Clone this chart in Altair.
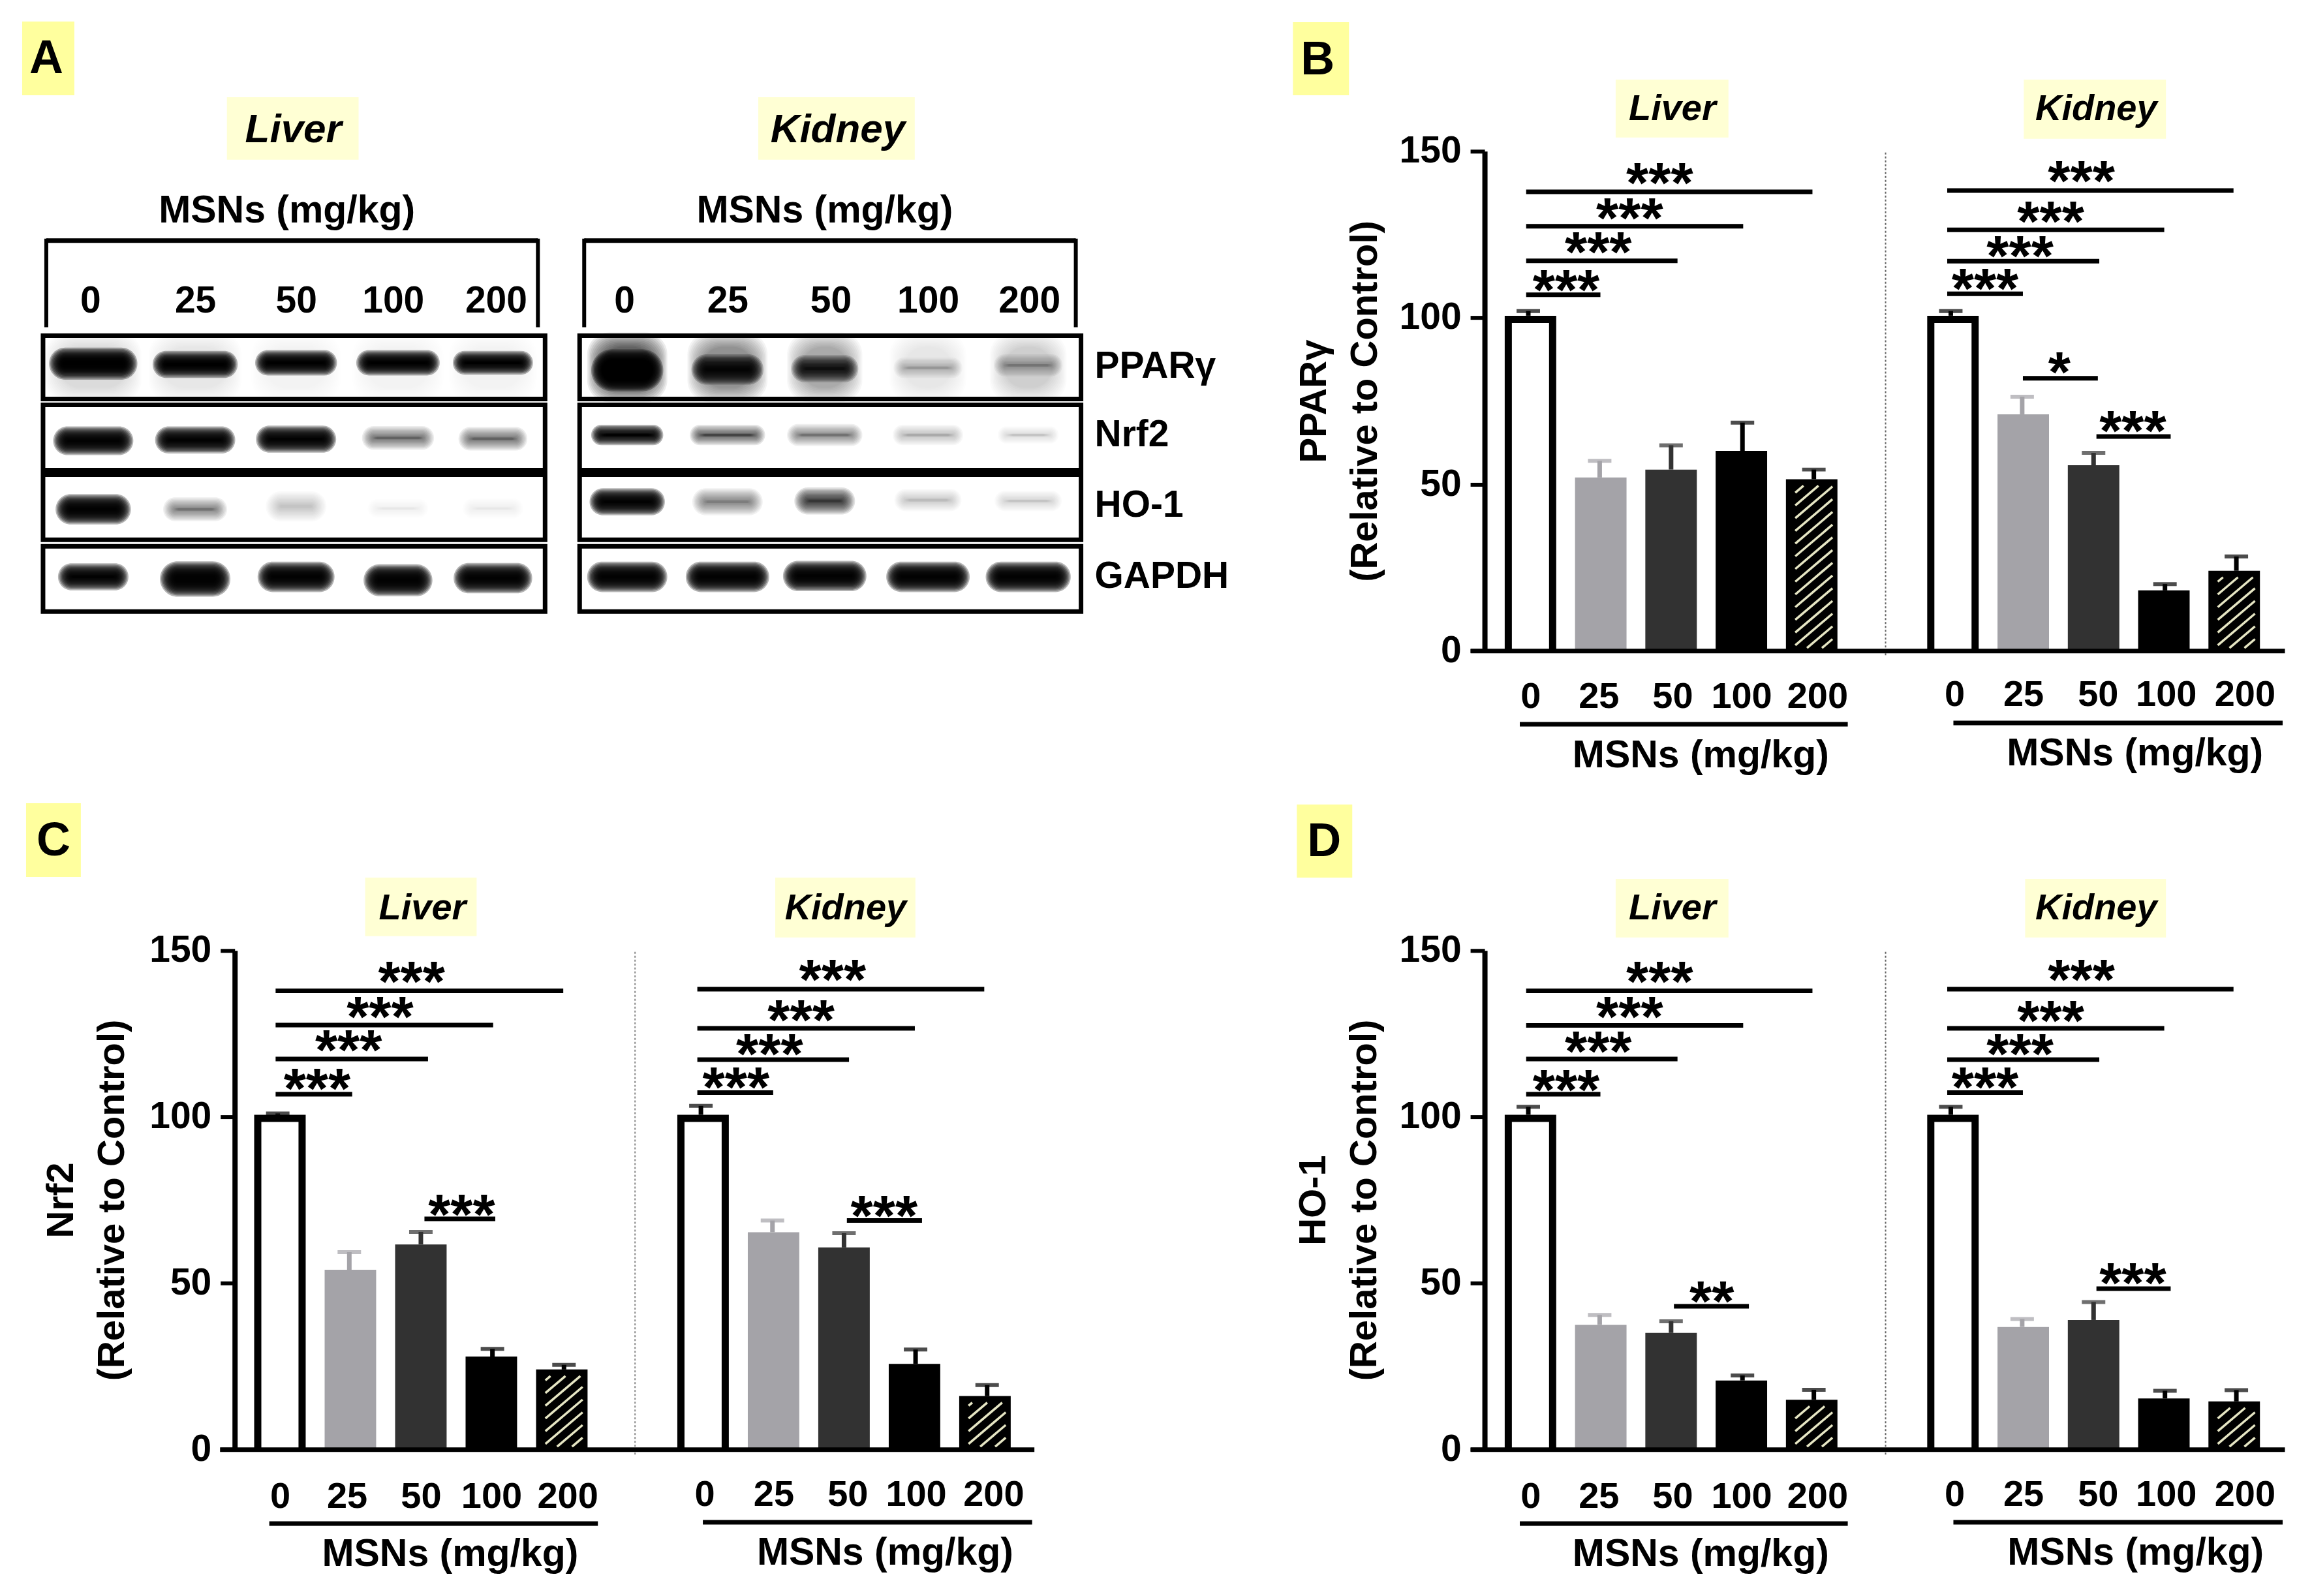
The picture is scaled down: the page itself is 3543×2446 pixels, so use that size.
import altair as alt
import pandas as pd

FONT = "Liberation Sans"
W, H = 3530, 2430

DOSES = ["0", "25", "50", "100", "200"]
FILLS = ["#000000", "#a4a3a8", "#323232", "#000000", "#000000"]
ERR_COLORS = ["#000000", "#a4a3a8", "#323232", "#000000", "#000000"]

# ---- bar values ----
B_LIVER = [100.6, 52, 54.4, 60, 51.5]
B_LIVER_ERR = [102, 57, 61.7, 68.5, 54.4]
B_KIDNEY = [100.6, 71, 55.7, 18.1, 24]
B_KIDNEY_ERR = [102, 76.3, 59.4, 20, 28.3]
C_LIVER = [100.6, 54, 61.6, 27.9, 24]
C_LIVER_ERR = [101, 59.3, 65.4, 30.2, 25.4]
C_KIDNEY = [100.6, 65.3, 60.7, 25.7, 16]
C_KIDNEY_ERR = [103.3, 68.8, 65, 30, 19.3]
D_LIVER = [100.6, 37.4, 35, 20.7, 14.9]
D_LIVER_ERR = [103, 40.4, 38.5, 22.2, 17.9]
D_KIDNEY = [100.6, 36.8, 38.9, 15.3, 14.4]
D_KIDNEY_ERR = [103, 39.2, 44.3, 17.6, 17.8]

# ---- significance bars: from, to, height, star x, star y, stars ----
B_L_SIG = ([-.03, -.03, -.03, -.03], [1.01, 2.09, 3.01, 3.98], [106.9, 117.1, 127.5, 137.8],
           [.53, .98, 1.42, 1.84], [110.7, 122.1, 132.3, 143], ["***"] * 4)
B_K_SIG = ([-.05, -.05, -.05, -.05, 1.01, 2.04], [1.01, 2.08, 2.99, 3.96, 2.06, 3.08],
           [107.2, 117, 126.4, 138.2, 81.8, 64.3],
           [.48, .97, 1.4, 1.83, 1.52, 2.55], [111.2, 121, 131.3, 143.5, 86, 68.4],
           ["***", "***", "***", "***", "*", "***"])
C_L_SIG = ([-.03, -.03, -.03, -.03, 2.05], [1.04, 2.1, 3.01, 3.99, 3.04],
           [106.8, 117.4, 127.6, 137.9, 69.3],
           [.55, .99, 1.43, 1.87, 2.57], [110.9, 122.4, 132.5, 143.1, 73.1], ["***"] * 5)
C_K_SIG = ([-.05, -.05, -.05, -.05, 2.04], [1.01, 2.07, 2.99, 3.96, 3.09],
           [107.3, 117.2, 126.6, 138.4, 68.8],
           [.49, .96, 1.4, 1.84, 2.56], [111.2, 121.4, 131.5, 143.6, 72.6], ["***"] * 5)
D_L_SIG = ([-.03, -.03, -.03, -.03, 2.04], [1.01, 2.09, 3.01, 3.98, 3.09],
           [106.8, 117.4, 127.5, 137.9, 43],
           [.53, .98, 1.42, 1.84, 2.57], [110.6, 122.1, 132.4, 143.1, 47],
           ["***", "***", "***", "***", "**"])
D_K_SIG = ([-.05, -.05, -.05, -.05, 2.04], [1.01, 2.08, 2.99, 3.96, 3.08],
           [107.3, 117.2, 126.6, 138.4, 48.3],
           [.48, .97, 1.4, 1.83, 2.55], [111.2, 121.4, 131.3, 143.6, 52.4], ["***"] * 5)

# ---- tick-label positions along the dose axis ----
TICKS_BD_L = [0, .97, 2.02, 3.0, 4.08]
TICKS_BD_K = [.02, 1.0, 2.06, 3.03, 4.15]
TICKS_C_L = [0, .95, 2.0, 3.0, 4.08]
TICKS_C_K = [.02, 1.0, 2.05, 3.02, 4.12]

# ---- western blot bands: darkness, width, half-height, centre row reading ----
ROW_NAMES = ["PPARγ", "Nrf2", "HO-1", "GAPDH"]
ROW_MID = [881, 1050, 1218, 1390]

LIVER_DARK = [[1, 1, 1, 1, 1], [1, 1, 1, .6, .6], [1, .55, .22, .08, .1], [1, 1, 1, 1, 1]]
LIVER_WIDE = [[96, 92, 88, 90, 86], [86, 86, 86, 76, 72], [80, 66, 62, 62, 62], [74, 74, 82, 72, 84]]
LIVER_TALL = [[26, 20, 18, 18, 16], [22, 20, 20, 16, 16], [24, 16, 24, 10, 12], [20, 30, 24, 26, 24]]
LIVER_CY = [[872, 874, 870, 870, 870], [1057, 1055, 1053, 1050, 1052], [1220, 1220, 1213, 1218, 1218],
            [1385, 1390, 1385, 1393, 1388]]
KIDNEY_DARK = [[1, .95, .9, .32, .42], [1, .72, .55, .32, .2], [1, .48, .78, .26, .2], [1, 1, 1, 1, 1]]
KIDNEY_WIDE = [[76, 76, 70, 72, 72], [76, 80, 80, 74, 62], [80, 74, 62, 70, 70], [86, 90, 90, 90, 92]]
KIDNEY_TALL = [[38, 24, 20, 12, 14], [12, 12, 14, 12, 8], [20, 20, 20, 14, 12], [24, 24, 24, 24, 24]]
KIDNEY_CY = [[888, 886, 884, 882, 876], [1043, 1043, 1043, 1043, 1043], [1202, 1202, 1200, 1198, 1200],
             [1385, 1385, 1383, 1385, 1385]]
SMEAR_DARK_L = [.14, .07, .06, .06, .06]
SMEAR_DARK_K = [.6, .42, .32, .1, .16]

LIVER_LANES = [0, 1.02, 2.03, 3.05, 4.0]
KIDNEY_LANES = [0, 1.0, 1.97, 3.0, 4.0]
LANE_TICKS_L = [-.03, 1.02, 2.03, 3.0, 4.03]
LANE_TICKS_K = [-.03, 1.0, 2.03, 3.0, 4.01]


def px(v):
    return v - 8


layers = []


def text(t, x, y, size, style="normal", align="center"):
    layers.append(
        alt.Chart(alt.Data(values=[{"t": t}]))
        .mark_text(font=FONT, fontWeight="bold", fontStyle=style, fontSize=size,
                   align=align, baseline="middle", color="#000000")
        .encode(x=alt.value(px(x)), y=alt.value(px(y)), text=alt.Text("t:N"))
    )


def box(x0, y0, x1, y1, fill, **kw):
    layers.append(
        alt.Chart(alt.Data(values=[{"a": 1}]))
        .mark_rect(fill=fill, **kw)
        .encode(x=alt.value(px(x0)), x2=alt.value(px(x1)), y=alt.value(px(y0)), y2=alt.value(px(y1)))
    )


def line(x0, y0, x1, y1, width, color="#000000", **kw):
    layers.append(
        alt.Chart(alt.Data(values=[{"a": 1}]))
        .mark_rule(color=color, strokeWidth=width, **kw)
        .encode(x=alt.value(px(x0)), x2=alt.value(px(x1)), y=alt.value(px(y0)), y2=alt.value(px(y1)))
    )


LABEL_EXPR = "['0','25','50','100','200'][round(datum.value)]"


def lane_scale(c0, c4):
    step = (c4 - c0) / 4
    return alt.Scale(domain=[-1, 5], range=[px(c0 - step), px(c4 + step)], nice=False, zero=False)


def organ(values, errs, sig, c0, c4, y0, y150, ticks, tick_y, msn_x, msn_y):
    xs = lane_scale(c0, c4)
    ys = alt.Scale(domain=[0, 150], range=[px(y0), px(y150)], nice=False, zero=False)
    step = (c4 - c0) / 4
    per = (y0 - y150) / 150
    df = pd.DataFrame({"dose": DOSES, "pos": range(5), "value": values, "err": errs})
    df["inner"] = df["value"] - 11 / per
    fill = alt.Fill("dose:N", scale=alt.Scale(domain=DOSES, range=FILLS), legend=None)
    col = alt.Color("dose:N", scale=alt.Scale(domain=DOSES, range=ERR_COLORS), legend=None)
    yy = alt.Y("value:Q", scale=ys, axis=None, stack=None)
    xx = alt.X("pos:Q", scale=xs, axis=None)
    # error bars
    layers.append(alt.Chart(df).mark_rule(strokeWidth=7).encode(
        x=xx, y=yy, y2=alt.Y2("err:Q"), color=col))
    layers.append(alt.Chart(df).mark_tick(orient="horizontal", size=36, thickness=6).encode(
        x=xx, y=alt.Y("err:Q", scale=ys, axis=None), color=col))
    # bars, carrying the dose axis
    axis = alt.Axis(orient="bottom", offset=px(y0) - H, values=ticks, labelExpr=LABEL_EXPR,
                    ticks=False, tickSize=0, domain=False, grid=False,
                    labelFont=FONT, labelFontWeight="bold", labelFontSize=56, labelColor="#000000",
                    labelAngle=0, labelAlign="center", labelBaseline="middle",
                    labelPadding=tick_y - y0, labelOverlap=False, labelBound=False, labelFlush=False,
                    title="MSNs (mg/kg)", titleFont=FONT, titleFontWeight="bold", titleFontSize=59,
                    titleColor="#000000", titleX=px(msn_x), titleY=msn_y - y0, titleAngle=0,
                    titleAlign="center", titleBaseline="middle")
    layers.append(alt.Chart(df).mark_bar(orient="vertical", size=79).encode(
        x=alt.X("pos:Q", scale=xs, axis=axis), y=yy, fill=fill))
    layers.append(alt.Chart(df[df.dose == "0"]).mark_bar(
        orient="vertical", size=57, fill="#ffffff").encode(
        x=xx, y=alt.Y("inner:Q", scale=ys, axis=None, stack=None)))
    # hatching of the last bar
    top = values[4] * per - 10
    rows = []
    c = -65.0
    while c < top + 40:
        xa = max(-28.5, (4 - c) / 0.85)
        xb = min(28.5, (top - c) / 0.85)
        if xb > xa:
            rows.append({"x": 4 + xa / step, "x2": 4 + xb / step,
                         "y": (c + 0.85 * xa) / per, "y2": (c + 0.85 * xb) / per})
        c += 19.5
    layers.append(alt.Chart(pd.DataFrame(rows)).mark_rule(color="#e6e6c4", strokeWidth=3.5).encode(
        x=alt.X("x:Q", scale=xs, axis=None), x2=alt.X2("x2:Q"),
        y=alt.Y("y:Q", scale=ys, axis=None), y2=alt.Y2("y2:Q")))
    # significance
    sd = pd.DataFrame({"a": sig[0], "b": sig[1], "v": sig[2], "sx": sig[3], "sy": sig[4], "s": sig[5]})
    layers.append(alt.Chart(sd).mark_rule(color="#000000", strokeWidth=7).encode(
        x=alt.X("a:Q", scale=xs, axis=None), x2=alt.X2("b:Q"), y=alt.Y("v:Q", scale=ys, axis=None)))
    layers.append(alt.Chart(sd).mark_text(font=FONT, fontWeight="bold", fontSize=88, align="center",
                                          baseline="alphabetic", dy=42, color="#000000").encode(
        x=alt.X("sx:Q", scale=xs, axis=None), y=alt.Y("sy:Q", scale=ys, axis=None), text=alt.Text("s:N")))


def frame(yax, y0, y150, ax0, ax1, title, title_x):
    ys = alt.Scale(domain=[0, 150], range=[px(y0), px(y150)], nice=False, zero=False)
    xs = alt.Scale(domain=[0, 1], range=[px(ax0), px(ax1)], nice=False, zero=False)
    yaxis = alt.Axis(orient="left", offset=-px(yax), values=[0, 50, 100, 150], grid=False,
                     domainColor="#000000", domainWidth=8, tickColor="#000000", tickWidth=6, tickSize=22,
                     labelFont=FONT, labelFontWeight="bold", labelFontSize=57, labelColor="#000000",
                     labelPadding=14, labelBaseline="middle", zindex=1,
                     title=title, titleFont=FONT, titleFontWeight="bold", titleFontSize=58,
                     titleColor="#000000", titleLineHeight=78, titleX=title_x - yax,
                     titleY=px((y0 + y150) / 2), titleAngle=-90, titleAlign="center", titleBaseline="middle")
    xaxis = alt.Axis(orient="bottom", offset=px(y0) - H, ticks=False, labels=False, grid=False, title=None,
                     domainColor="#000000", domainWidth=7, zindex=1)
    layers.append(alt.Chart(pd.DataFrame({"u": [0, 1], "v": [0, 150]})).mark_point(opacity=0).encode(
        x=alt.X("u:Q", scale=xs, axis=xaxis), y=alt.Y("v:Q", scale=ys, axis=yaxis)))


def blot(dark, wide, tall, cy, smear, lanes, l0, l4, x0, x1, lane_ticks, brack0, brack1):
    xs = lane_scale(l0, l4)
    ys = alt.Scale(domain=[0, 3], range=[px(562.5), px(887)], nice=False, zero=False)
    step = (l4 - l0) / 4
    rstep = (887 - 562.5) / 3
    rows_box = [(514, 611), (620, 720), (727, 827), (837, 937)]
    for a, b in rows_box:
        box(x0, a, x1, b, "#ffffff")
    bands = []
    for i in range(5):
        bands.append((lanes[i], 881 * 0.638, (wide[0][i] + 10) * 1.244 / 2, 62 * .638 + 6, smear[i], 0))
    for r in range(4):
        for i in range(5):
            bands.append((lanes[i], cy[r][i] * 0.638, wide[r][i] * 1.244 / 2, tall[r][i] * 0.638, dark[r][i], r))
    blur = [8, 6, 4, 2, 0, -2, -4, -6, -8, -10, -12, -14]
    for d in blur:
        rows = []
        for lane, cy_px, hw, hh, dk, r in bands:
            mid = r + (cy_px - ROW_MID[r] * 0.638) / rstep
            h = max(2.0, hh + d)
            rows.append({"x": lane - (hw + d) / step, "x2": lane + (hw + d) / step,
                         "y": mid - h / rstep, "y2": mid + h / rstep,
                         "o": 1 - (1 - min(dk, .985)) ** (1 / len(blur))})
        layers.append(alt.Chart(pd.DataFrame(rows)).mark_rect(cornerRadius=34, fill="#000000").encode(
            x=alt.X("x:Q", scale=xs, axis=None), x2=alt.X2("x2:Q"),
            y=alt.Y("y:Q", scale=ys, axis=None), y2=alt.Y2("y2:Q"),
            opacity=alt.Opacity("o:Q", scale=None)))
    for a, b in rows_box:
        box(x0, a, x1, b, "#ffffff", fillOpacity=0, stroke="#000000", strokeWidth=7)
    # dose labels above the blot
    axis = alt.Axis(orient="bottom", offset=px(461) - H, values=lane_ticks, labelExpr=LABEL_EXPR,
                    ticks=False, tickSize=0, domain=False, grid=False, title=None,
                    labelFont=FONT, labelFontWeight="bold", labelFontSize=57, labelColor="#000000",
                    labelAngle=0, labelAlign="center", labelBaseline="middle", labelPadding=0,
                    labelOverlap=False, labelBound=False, labelFlush=False)
    layers.append(alt.Chart(pd.DataFrame({"u": [0, 4]})).mark_point(opacity=0).encode(
        x=alt.X("u:Q", scale=xs, axis=axis)))
    # bracket
    line(brack0, 368, brack1, 368, 7)
    line(brack0, 365, brack0, 501, 6)
    line(brack1, 365, brack1, 501, 6)


YEL = "#ffff9e"
PALE = "#ffffd4"

# ---- panel letters and organ tags ----
for x0, y0, x1, y1, t, tx, ty in [
    (34, 32, 114, 145, "A", 71, 89), (1983, 33, 2069, 145, "B", 2021, 91),
    (40, 1231, 124, 1344, "C", 82, 1289), (1989, 1233, 2074, 1345, "D", 2031, 1290),
]:
    box(x0, y0, x1, y1, YEL)
    text(t, tx, ty, 72)

for x0, y0, x1, y1, t, tx, ty, s in [
    (348, 148, 550, 244, "Liver", 450, 198, 62), (1163, 148, 1403, 244, "Kidney", 1285, 198, 62),
    (2478, 121, 2651, 210, "Liver", 2565, 166, 56), (3104, 121, 3322, 212, "Kidney", 3215, 166, 56),
    (560, 1345, 731, 1435, "Liver", 648, 1392, 56), (1189, 1345, 1404, 1437, "Kidney", 1297, 1392, 56),
    (2478, 1347, 2651, 1437, "Liver", 2565, 1392, 56), (3106, 1347, 3322, 1437, "Kidney", 3215, 1392, 56),
]:
    box(x0, y0, x1, y1, PALE)
    text(t, tx, ty, s, style="italic")

# ---- panel A ----
text("MSNs (mg/kg)", 440, 322, 59)
text("MSNs (mg/kg)", 1265, 322, 59)
blot(LIVER_DARK, LIVER_WIDE, LIVER_TALL, LIVER_CY, SMEAR_DARK_L, LIVER_LANES, 143, 756, 66, 836, LANE_TICKS_L, 71, 825)
blot(KIDNEY_DARK, KIDNEY_WIDE, KIDNEY_TALL, KIDNEY_CY, SMEAR_DARK_K, KIDNEY_LANES, 962, 1577, 889, 1658, LANE_TICKS_K, 896, 1650)
for name, yy in zip(ROW_NAMES, [561, 667, 775, 884]):
    text(name, 1679, yy, 57, align="left")

# ---- panels B, C, D ----
line(2892, 233, 2892, 1007, 2, "#666666", strokeDash=[3, 3])
organ(B_LIVER, B_LIVER_ERR, B_L_SIG, 2344, 2782, 997, 231, TICKS_BD_L, 1067, 2608, 1157)
organ(B_KIDNEY, B_KIDNEY_ERR, B_K_SIG, 2992, 3430, 997, 231, TICKS_BD_K, 1064, 3274, 1154)
frame(2277, 997, 231, 2255, 3504, ["PPARγ", "(Relative to Control)"], 2016)
line(2331, 1110, 2834, 1110, 7)
line(2996, 1108, 3501, 1108, 7)

line(974, 1459, 974, 2232, 2, "#888888", strokeDash=[3, 3])
organ(C_LIVER, C_LIVER_ERR, C_L_SIG, 426, 865, 2222, 1457, TICKS_C_L, 2294, 690, 2383)
organ(C_KIDNEY, C_KIDNEY_ERR, C_K_SIG, 1075, 1514, 2222, 1457, TICKS_C_K, 2291, 1357, 2380)
frame(360, 2222, 1457, 337, 1586, ["Nrf2", "(Relative to Control)"], 95)
line(413, 2336, 917, 2336, 7)
line(1078, 2334, 1583, 2334, 7)

line(2892, 1459, 2892, 2232, 2, "#666666", strokeDash=[3, 3])
organ(D_LIVER, D_LIVER_ERR, D_L_SIG, 2344, 2782, 2222, 1457, TICKS_BD_L, 2294, 2608, 2383)
organ(D_KIDNEY, D_KIDNEY_ERR, D_K_SIG, 2992, 3430, 2222, 1457, TICKS_BD_K, 2291, 3275, 2380)
frame(2277, 2222, 1457, 2255, 3504, ["HO-1", "(Relative to Control)"], 2015)
line(2331, 2336, 2834, 2336, 7)
line(2996, 2334, 3501, 2334, 7)

chart = (
    alt.layer(*layers)
    .resolve_scale(x="independent", y="independent")
    .properties(width=W, height=H, padding=0, autosize=alt.AutoSizeParams(type="none"))
    .configure_view(stroke=None)
)
chart.save("out.html", embed_options={"renderer": "svg", "actions": False})
